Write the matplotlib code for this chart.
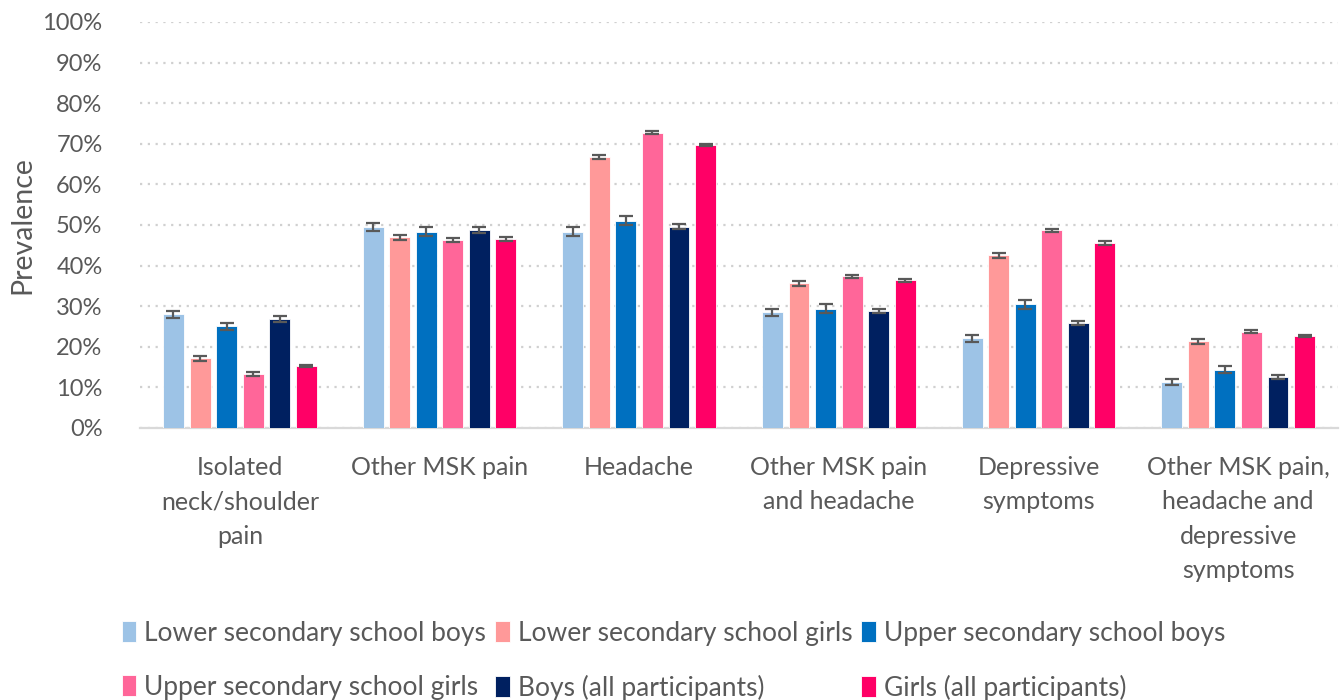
import matplotlib
matplotlib.use("Agg")
import matplotlib.pyplot as plt
import numpy as np

categories = ["Isolated\nneck/shoulder\npain", "Other MSK pain", "Headache",
              "Other MSK pain\nand headache", "Depressive\nsymptoms",
              "Other MSK pain,\nheadache and\ndepressive\nsymptoms"]
series_names = ["Lower secondary school boys", "Lower secondary school girls",
                "Upper secondary school boys", "Upper secondary school girls",
                "Boys (all participants)", "Girls (all participants)"]
colors = ["#9DC3E6", "#FF9999", "#0070C0", "#FF6699", "#002060", "#FF0066"]

lsb = [28.0, 49.4, 48.3, 28.5, 22.1, 11.3]
lsg = [17.2, 47.0, 66.7, 35.6, 42.5, 21.4]
usb = [25.0, 48.3, 51.1, 29.4, 30.5, 14.4]
usg = [13.3, 46.2, 72.7, 37.4, 48.7, 23.7]
boys = [26.8, 48.8, 49.6, 28.8, 25.8, 12.6]
girls = [15.3, 46.6, 69.7, 36.4, 45.5, 22.7]

lsb_err = [0.9, 1.0, 1.1, 0.9, 0.9, 0.7]
lsg_err = [0.6, 0.6, 0.5, 0.6, 0.6, 0.6]
usb_err = [0.9, 1.1, 1.2, 1.1, 1.1, 0.9]
usg_err = [0.5, 0.5, 0.4, 0.4, 0.4, 0.4]
boys_err = [0.7, 0.8, 0.7, 0.6, 0.5, 0.5]
girls_err = [0.3, 0.5, 0.3, 0.4, 0.5, 0.3]

yticks = [0, 10, 20, 30, 40, 50, 60, 70, 80, 90, 100]
ytick_labels = [f"{t}%" for t in yticks]

plt.rcParams['font.family'] = ['Lato', 'DejaVu Sans']
txt = "#595959"

fig = plt.figure(figsize=(13.4, 7.0), dpi=100)
ax = fig.add_axes([0.1045, 0.3886, 0.894, 0.58])

values = [lsb, lsg, usb, usg, boys, girls]
errs = [lsb_err, lsg_err, usb_err, usg_err, boys_err, girls_err]
x = np.arange(len(categories))
pitch = 0.133
width = 0.105
handles = []
for i, (v, e, c, n) in enumerate(zip(values, errs, colors, series_names)):
    pos = x + (i - 2.5) * pitch
    h = ax.bar(pos, v, width, color=c, label=n, edgecolor="white", linewidth=0.6, zorder=3)
    handles.append(h)
    ax.errorbar(pos, v, yerr=e, fmt="none", ecolor="#595959", elinewidth=1.6,
                capsize=5, capthick=1.6, zorder=4)

ax.set_xlim(-0.5, len(categories) - 0.5)
ax.set_ylim(0, 100)
ax.set_yticks(yticks)
ax.set_yticklabels(ytick_labels, fontsize=17, color=txt)
ax.set_xticks(x)
ax.set_xticklabels(categories, fontsize=18, color=txt, linespacing=1.6)
ax.tick_params(axis="y", length=0, pad=27)
ax.tick_params(axis="x", length=0, pad=20)
ax.yaxis.grid(True, linestyle=(0, (1, 2.5)), color="#D0D0D0", linewidth=1.6, zorder=0)
for s in ["top", "right", "left"]:
    ax.spines[s].set_visible(False)
ax.spines["bottom"].set_color("#D9D9D9")
ax.spines["bottom"].set_linewidth(1.6)
ax.set_ylabel("Prevalence", fontsize=20.5, color=txt)
ax.yaxis.set_label_coords(-0.087, 0.5)

order = [0, 3, 1, 4, 2, 5]
leg = fig.legend([handles[k] for k in order], [series_names[k] for k in order],
                 loc="lower left", bbox_to_anchor=(0.073, -0.035), ncol=3, frameon=False,
                 fontsize=19, handlelength=0.55, handleheight=0.8, handletextpad=0.3,
                 columnspacing=0.35, labelspacing=1.1)
for t in leg.get_texts():
    t.set_color(txt)

fig.savefig("out.png", dpi=100)
